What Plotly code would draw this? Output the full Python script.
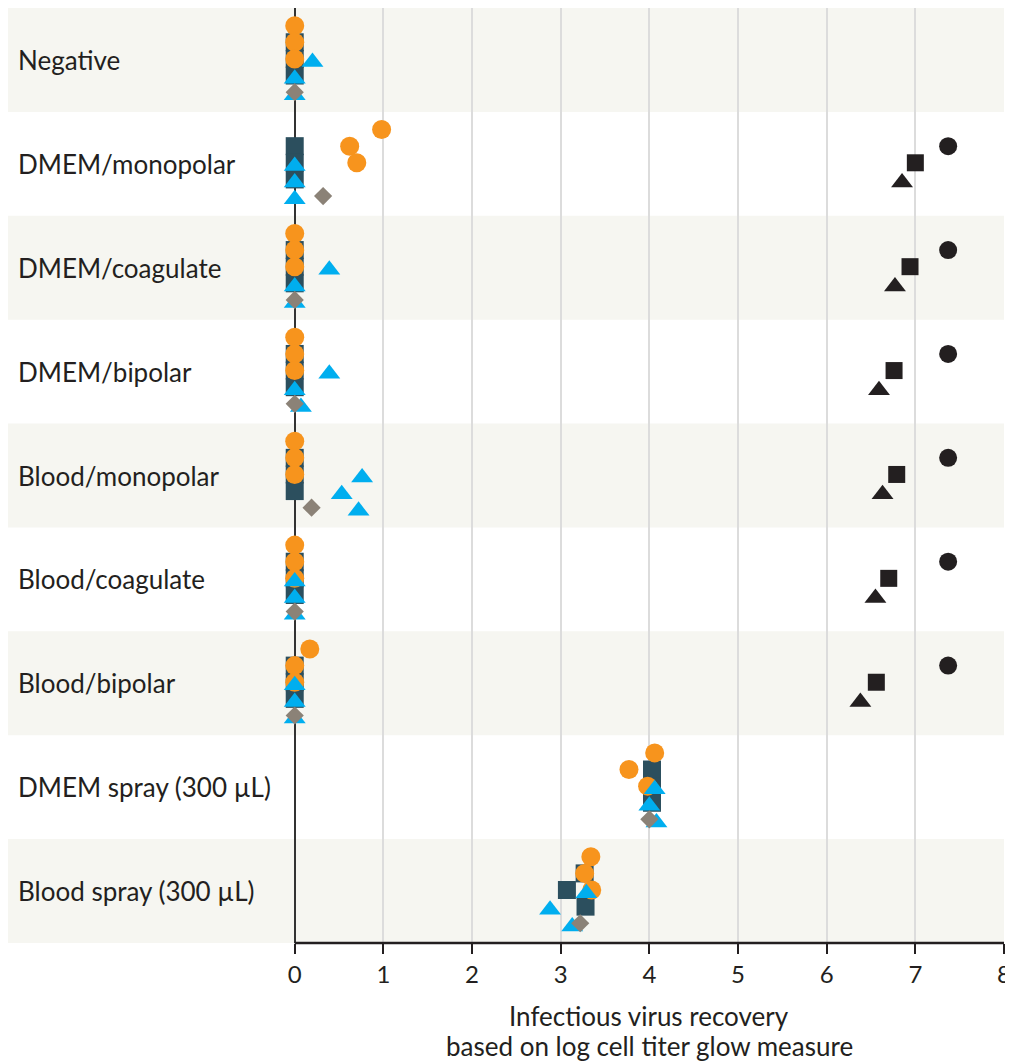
import plotly.graph_objects as go

categories = ["Negative", "DMEM/monopolar", "DMEM/coagulate", "DMEM/bipolar",
              "Blood/monopolar", "Blood/coagulate", "Blood/bipolar",
              "DMEM spray (300 µL)", "Blood spray (300 µL)"]

# three replicates per group for each coloured series
orange_circle = [[0, 0, 0], [0.98, 0.62, 0.70], [0, 0, 0], [0, 0, 0], [0, 0, 0],
                 [0, 0, 0], [0.17, 0, 0], [4.06, 3.77, 3.98], [3.34, 3.27, 3.35]]
teal_square = [[0, 0, 0], [0, 0, 0], [0, 0, 0], [0, 0, 0], [0, 0, 0],
               [0, 0, 0], [0, 0, 0], [4.03, 4.03, 4.03], [3.27, 3.07, 3.28]]
blue_triangle = [[0.2, 0, 0], [0, 0, 0], [0.39, 0, 0], [0.39, 0, 0.07], [0.76, 0.53, 0.72],
                 [0, 0, 0], [0, 0, 0], [4.06, 4.00, 4.08], [3.29, 2.88, 3.13]]
grey_diamond = [0, 0.32, 0, 0, 0.19, 0, 0, 4.00, 3.22]

# positive controls (black), groups DMEM/monopolar .. Blood/bipolar
black_groups = [1, 2, 3, 4, 5, 6]
black_circle = [7.37, 7.37, 7.37, 7.37, 7.37, 7.37]
black_square = [7.00, 6.94, 6.76, 6.79, 6.70, 6.56]
black_triangle = [6.85, 6.77, 6.59, 6.63, 6.55, 6.38]

x_ticks = [0, 1, 2, 3, 4, 5, 6, 7, 8]
title_lines = ["Infectious virus recovery", "based on log cell titer glow measure"]

ORANGE = "#f7941d"
TEAL = "#2c4f5e"
BLUE = "#00aeef"
GREY = "#8b8277"
BLACK = "#231f20"
BAND = "#f6f6f1"
FONT = "Lato"


def expand(vals, offsets):
    xs, ys = [], []
    for gi, reps in enumerate(vals):
        for ri, v in enumerate(reps):
            xs.append(v)
            ys.append(gi + offsets[ri])
    return xs, ys


fig = go.Figure()

xs, ys = expand(teal_square, [-0.17, -0.01, 0.15])
fig.add_trace(go.Scatter(x=xs, y=ys, mode="markers",
                         marker=dict(symbol="square", size=18, color=TEAL)))
xs, ys = expand(orange_circle, [-0.33, -0.17, -0.01])
fig.add_trace(go.Scatter(x=xs, y=ys, mode="markers",
                         marker=dict(symbol="circle", size=19, color=ORANGE)))
xs, ys = expand(blue_triangle, [0.02, 0.18, 0.34])
fig.add_trace(go.Scatter(x=xs, y=ys, mode="markers",
                         marker=dict(symbol="triangle-up", size=19, color=BLUE)))
fig.add_trace(go.Scatter(x=grey_diamond, y=[i + 0.31 for i in range(len(grey_diamond))],
                         mode="markers",
                         marker=dict(symbol="diamond", size=14, color=GREY)))

fig.add_trace(go.Scatter(x=black_circle, y=[g - 0.17 for g in black_groups], mode="markers",
                         marker=dict(symbol="circle", size=18, color=BLACK)))
fig.add_trace(go.Scatter(x=black_square, y=[g - 0.01 for g in black_groups], mode="markers",
                         marker=dict(symbol="square", size=17, color=BLACK)))
fig.add_trace(go.Scatter(x=black_triangle, y=[g + 0.18 for g in black_groups], mode="markers",
                         marker=dict(symbol="triangle-up", size=19, color=BLACK)))

shapes = []
for i in range(len(categories)):
    if i % 2 == 0:
        shapes.append(dict(type="rect", xref="paper", yref="y", x0=0, x1=1,
                           y0=i - 0.5, y1=i + 0.5, fillcolor=BAND,
                           line=dict(width=0), layer="below"))
shapes.append(dict(type="line", xref="x", yref="paper", x0=x_ticks[0], x1=x_ticks[-1],
                   y0=0, y1=0, line=dict(color=BLACK, width=2.5)))

annotations = []
for i, c in enumerate(categories):
    annotations.append(dict(text=c, xref="paper", yref="y", x=0, y=i, xanchor="left",
                            xshift=8, showarrow=False,
                            font=dict(family=FONT, size=26, color=BLACK)))
for k, line in enumerate(title_lines):
    annotations.append(dict(text=line, xref="x", yref="paper", x=4, y=0,
                            yanchor="middle", yshift=-73 - 30 * k,
                            showarrow=False, align="center",
                            font=dict(family=FONT, size=26, color=BLACK)))

# page body has an 8px margin, so the figure is offset by it inside the window
fig.update_layout(
    width=1005, height=1054,
    margin=dict(l=0, r=9, t=0, b=119, autoexpand=False),
    paper_bgcolor="white", plot_bgcolor="white",
    showlegend=False,
    shapes=shapes, annotations=annotations,
    xaxis=dict(range=[-3.234, 8], tickvals=x_ticks, ticktext=[str(t) for t in x_ticks],
               showgrid=True, gridcolor="#dcdcdc", gridwidth=2,
               zeroline=True, zerolinecolor="#333333", zerolinewidth=2,
               showline=False, ticks="outside", ticklen=10, tickwidth=2, tickcolor=BLACK,
               tickfont=dict(family=FONT, size=24, color=BLACK), fixedrange=True),
    yaxis=dict(range=[8.5, -0.5], autorange=False, showticklabels=False,
               showgrid=False, zeroline=False, showline=False, fixedrange=True),
)

fig.write_html("out.html")
